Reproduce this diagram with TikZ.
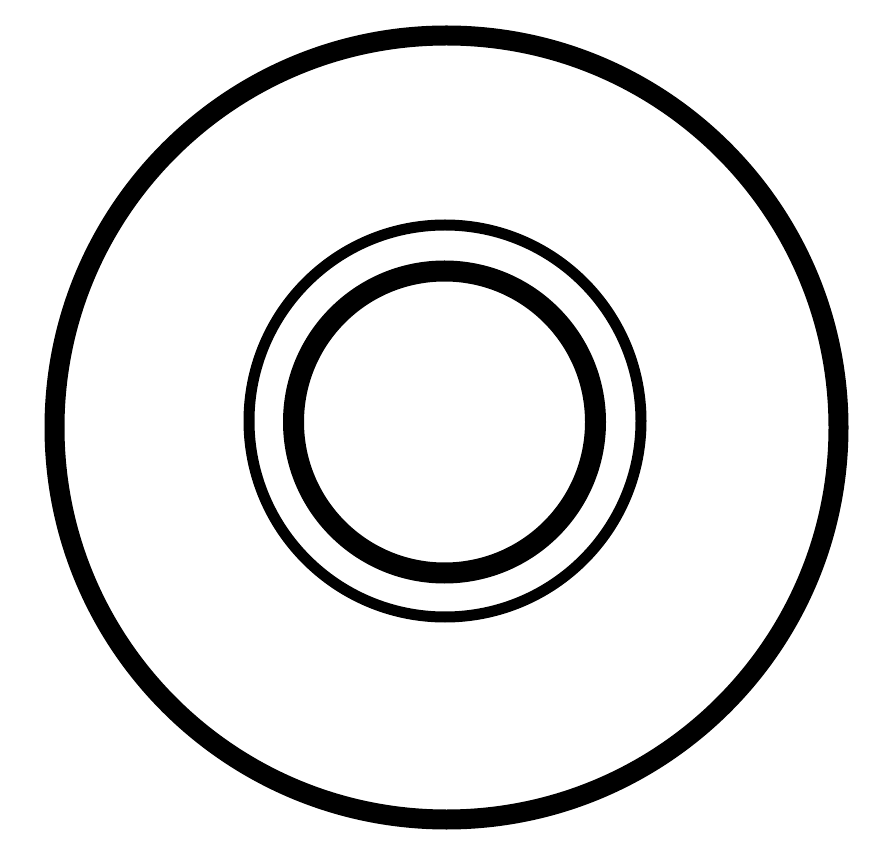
\documentclass[tikz,border=0pt]{standalone}
\usepackage{tikz}
\usetikzlibrary{arrows}

\tikzset{
  thickring/.style={black, line width=20pt},
  thinring/.style={black, line width=11pt}
}

\begin{document}
\begin{tikzpicture}[x=1pt,y=1pt]
        
        \useasboundingbox (0,0) rectangle (894,855);
        
        \coordinate (outerc) at (446.5,427.5);
        \coordinate (thinc) at (445,434);
        \coordinate (innerc) at (444.5,433);
        
        \draw [thickring] (outerc) circle (392);
        
        \draw [thinring] (thinc) circle (196);
        
        \draw [thickring, line width=21pt] (innerc) circle (151);
        
        \end{tikzpicture}
\end{document}
